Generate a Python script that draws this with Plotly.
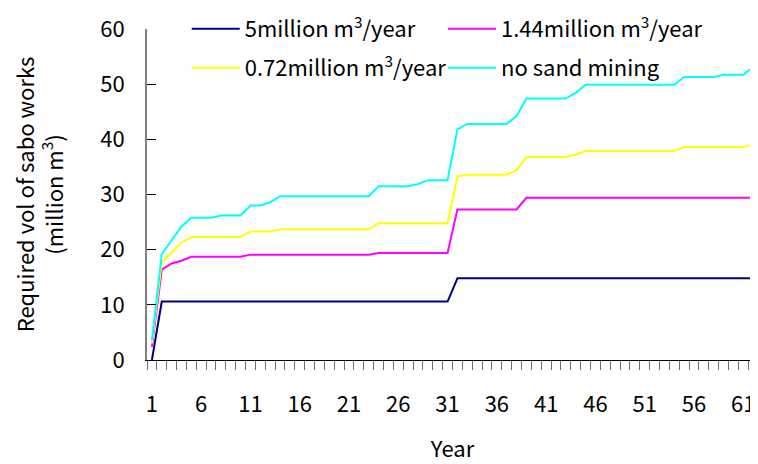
import plotly.graph_objects as go

years = list(range(1, 63))

# values (million m3)
mining_5 = [0, 10.6, 10.6, 10.6, 10.6, 10.6, 10.6, 10.6, 10.6, 10.6,
            10.6, 10.6, 10.6, 10.6, 10.6, 10.6, 10.6, 10.6, 10.6, 10.6,
            10.6, 10.6, 10.6, 10.6, 10.6, 10.6, 10.6, 10.6, 10.6, 10.6,
            10.6, 14.8, 14.8, 14.8, 14.8, 14.8, 14.8, 14.8, 14.8, 14.8,
            14.8, 14.8, 14.8, 14.8, 14.8, 14.8, 14.8, 14.8, 14.8, 14.8,
            14.8, 14.8, 14.8, 14.8, 14.8, 14.8, 14.8, 14.8, 14.8, 14.8,
            14.8, 14.8]
mining_144 = [2.4, 16.4, 17.5, 18.0, 18.7, 18.7, 18.7, 18.7, 18.7, 18.7,
              19.1, 19.1, 19.1, 19.1, 19.1, 19.1, 19.1, 19.1, 19.1, 19.1,
              19.1, 19.1, 19.1, 19.4, 19.4, 19.4, 19.4, 19.4, 19.4, 19.4,
              19.4, 27.3, 27.3, 27.3, 27.3, 27.3, 27.3, 27.3, 29.4, 29.4,
              29.4, 29.4, 29.4, 29.4, 29.4, 29.4, 29.4, 29.4, 29.4, 29.4,
              29.4, 29.4, 29.4, 29.4, 29.4, 29.4, 29.4, 29.4, 29.4, 29.4,
              29.4, 29.4]
mining_072 = [3.0, 17.7, 19.5, 21.3, 22.3, 22.3, 22.3, 22.3, 22.3, 22.3,
              23.3, 23.3, 23.3, 23.7, 23.7, 23.7, 23.7, 23.7, 23.7, 23.7,
              23.7, 23.7, 23.7, 24.8, 24.8, 24.8, 24.8, 24.8, 24.8, 24.8,
              24.8, 33.3, 33.6, 33.6, 33.6, 33.6, 33.6, 34.4, 36.8, 36.8,
              36.8, 36.8, 36.8, 37.2, 37.9, 37.9, 37.9, 37.9, 37.9, 37.9,
              37.9, 37.9, 37.9, 37.9, 38.6, 38.6, 38.6, 38.6, 38.6, 38.6,
              38.6, 39.0]
no_mining = [3.6, 19.2, 21.7, 24.2, 25.8, 25.8, 25.8, 26.2, 26.2, 26.2,
             28.0, 28.0, 28.6, 29.7, 29.7, 29.7, 29.7, 29.7, 29.7, 29.7,
             29.7, 29.7, 29.7, 31.5, 31.5, 31.5, 31.5, 31.9, 32.6, 32.6,
             32.6, 41.8, 42.8, 42.8, 42.8, 42.8, 42.8, 44.2, 47.4, 47.4,
             47.4, 47.4, 47.4, 48.4, 49.9, 49.9, 49.9, 49.9, 49.9, 49.9,
             49.9, 49.9, 49.9, 49.9, 51.3, 51.3, 51.3, 51.3, 51.7, 51.7,
             51.7, 53.1]

tick_years = [1, 6, 11, 16, 21, 26, 31, 36, 41, 46, 51, 56, 61]

# name, values, colour, legend (one legend box per slot of the 2x2 key)
series = [
    ("5million m<sup>3</sup>/year", mining_5, "#000080", "legend"),
    ("1.44million m<sup>3</sup>/year", mining_144, "#FF00FF", "legend2"),
    ("0.72million m<sup>3</sup>/year", mining_072, "#FFFF00", "legend3"),
    ("no sand mining", no_mining, "#00FFFF", "legend4"),
]

fig = go.Figure()
for name, vals, color, leg in series:
    fig.add_trace(go.Scatter(x=years, y=vals, mode="lines", name=name,
                             legend=leg, showlegend=True,
                             line=dict(color=color, width=2)))

# hidden copy on x2 so that the boundary-tick axis gets drawn
fig.add_trace(go.Scatter(x=years, y=mining_5, xaxis="x2", mode="lines",
                         line=dict(width=0), showlegend=False,
                         hoverinfo="skip"))

fig.update_layout(
    xaxis=dict(
        range=[0.5, 62.5],
        tickmode="array", tickvals=tick_years,
        ticks="", showline=True, linecolor="black", linewidth=1,
        showgrid=False, zeroline=False,
        ticklabelstandoff=25,
        tickfont=dict(family="Noto Sans CJK JP", size=22, color="black"),
        title=dict(text="Year", standoff=24,
                   font=dict(family="Noto Sans CJK JP", size=22,
                             color="black")),
    ),
    # second x axis only carries the category-boundary tick marks
    xaxis2=dict(
        overlaying="x", anchor="y", side="bottom",
        range=[0.5, 62.5],
        tickmode="linear", tick0=0.5, dtick=1,
        ticks="outside", ticklen=9, tickwidth=1, tickcolor="#707070",
        showticklabels=False, showline=False, showgrid=False,
        zeroline=False,
    ),
)
fig.update_yaxes(
    range=[0, 60], dtick=10,
    ticks="inside", ticklen=9, tickcolor="black",
    showline=True, linecolor="#808080", linewidth=2,
    showgrid=False, zeroline=False,
    ticklabelstandoff=16,
    tickfont=dict(family="Noto Sans CJK JP", size=22, color="black"),
    title=dict(text="Required vol of sabo works<br>(million m<sup>3</sup>)",
               standoff=39,
               font=dict(family="Noto Sans CJK JP", size=22, color="black")),
)

leg_style = dict(xanchor="left", yanchor="middle",
                 bgcolor="rgba(0,0,0,0)", itemwidth=48,
                 font=dict(family="Noto Sans CJK JP", size=22, color="black"))
fig.update_layout(
    width=750, height=456,
    margin=dict(l=139, r=0, t=14, b=104),
    plot_bgcolor="white", paper_bgcolor="white",
    showlegend=True,
    legend=dict(x=0.065, y=1.0, **leg_style),
    legend2=dict(x=0.4845, y=1.0, **leg_style),
    legend3=dict(x=0.065, y=0.882, **leg_style),
    legend4=dict(x=0.4845, y=0.882, **leg_style),
)

fig.write_html("out.html")
